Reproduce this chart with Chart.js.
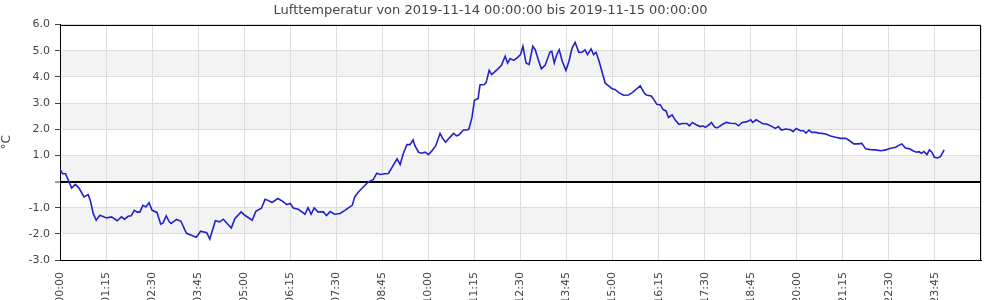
<!DOCTYPE html>
<html>
<head>
<meta charset="utf-8">
<script src="https://cdn.jsdelivr.net/npm/chart.js@4/dist/chart.umd.min.js"></script>
<style>
  html, body { margin: 0; padding: 0; background: #fff; }
  #wrap { width: 1000px; height: 300px; overflow: hidden; }
</style>
</head>
<body>
<div id="wrap"><canvas id="chart" width="1000" height="300"></canvas></div>
<script>
// Messzeitpunkte (Minuten seit 00:00) und Lufttemperatur in °C
const minutes = [
  0, 4, 9, 19, 25, 31, 39, 46, 50, 54, 59, 65, 76, 84, 93, 100, 105, 111, 116, 121,
  126, 130, 135, 140, 145, 150, 158, 164, 168, 173, 178, 181, 190, 197, 201, 206, 214, 222, 229, 239,
  244, 253, 260, 266, 279, 285, 295, 301, 313, 319, 328, 334, 339, 345, 355, 364, 369, 375, 380, 388,
  394, 399, 404, 409, 414, 420, 429, 434, 440, 447, 456, 464, 472, 476, 480, 486, 494, 502, 510, 516,
  521, 529, 535, 541, 549, 554, 559, 565, 570, 575, 578, 584, 589, 595, 600, 606, 612, 619, 623, 628,
  635, 641, 646, 650, 657, 663, 666, 671, 675, 681, 684, 691, 694, 699, 703, 712, 719, 725, 729, 733,
  739, 744, 750, 754, 759, 764, 770, 774, 779, 784, 790, 798, 801, 805, 809, 813, 818, 824, 829, 834,
  839, 845, 851, 855, 859, 865, 869, 873, 878, 884, 888, 894, 899, 904, 910, 918, 926, 932, 937, 945,
  951, 955, 963, 967, 972, 978, 982, 987, 991, 997, 1002, 1008, 1014, 1021, 1025, 1030, 1036, 1043, 1047, 1051,
  1057, 1061, 1066, 1070, 1073, 1078, 1085, 1092, 1100, 1105, 1111, 1119, 1125, 1128, 1134, 1139, 1144, 1152, 1160, 1165,
  1170, 1175, 1182, 1190, 1194, 1199, 1206, 1211, 1215, 1220, 1224, 1231, 1236, 1241, 1247, 1255, 1263, 1271, 1280, 1286,
  1293, 1300, 1306, 1312, 1320, 1328, 1337, 1345, 1353, 1361, 1365, 1371, 1377, 1384, 1389, 1395, 1399, 1403, 1407, 1412,
  1416, 1420, 1424, 1429, 1434, 1440
];
const temps = [
  0.46, 0.30, 0.30, -0.25, -0.11, -0.25, -0.59, -0.50, -0.78, -1.22, -1.48, -1.29, -1.39, -1.35, -1.50, -1.35, -1.44, -1.33, -1.31, -1.10,
  -1.17, -1.17, -0.91, -0.97, -0.81, -1.10, -1.18, -1.63, -1.58, -1.31, -1.54, -1.60, -1.45, -1.52, -1.73, -1.98, -2.05, -2.13, -1.90, -1.96,
  -2.20, -1.50, -1.54, -1.44, -1.78, -1.41, -1.16, -1.29, -1.48, -1.14, -1.02, -0.68, -0.72, -0.80, -0.65, -0.78, -0.88, -0.84, -1.01, -1.06,
  -1.16, -1.25, -1.00, -1.25, -1.01, -1.16, -1.16, -1.30, -1.15, -1.25, -1.22, -1.10, -0.97, -0.91, -0.59, -0.40, -0.21, -0.02, 0.07, 0.32,
  0.27, 0.30, 0.31, 0.55, 0.87, 0.65, 1.06, 1.41, 1.41, 1.59, 1.37, 1.12, 1.08, 1.12, 1.03, 1.18, 1.37, 1.84, 1.66, 1.50,
  1.69, 1.84, 1.75, 1.79, 1.97, 1.97, 2.01, 2.45, 3.11, 3.18, 3.69, 3.71, 3.78, 4.25, 4.09, 4.28, 4.44, 4.79, 4.53, 4.70,
  4.63, 4.72, 4.85, 5.17, 4.53, 4.47, 5.17, 5.04, 4.66, 4.31, 4.44, 4.95, 4.98, 4.53, 4.85, 5.04, 4.60, 4.25, 4.60, 5.10,
  5.32, 4.94, 4.95, 5.04, 4.85, 5.07, 4.85, 4.94, 4.60, 4.09, 3.76, 3.65, 3.55, 3.52, 3.40, 3.30, 3.31, 3.40, 3.50, 3.66,
  3.40, 3.31, 3.27, 3.14, 2.95, 2.93, 2.76, 2.70, 2.45, 2.55, 2.35, 2.19, 2.22, 2.22, 2.13, 2.26, 2.17, 2.10, 2.13, 2.07,
  2.17, 2.26, 2.09, 2.05, 2.09, 2.17, 2.26, 2.23, 2.22, 2.13, 2.26, 2.29, 2.36, 2.26, 2.36, 2.29, 2.22, 2.19, 2.10, 2.03,
  2.10, 1.97, 2.01, 1.98, 1.91, 2.03, 1.94, 1.94, 1.85, 1.97, 1.88, 1.88, 1.85, 1.84, 1.82, 1.74, 1.69, 1.65, 1.65, 1.56,
  1.44, 1.44, 1.46, 1.25, 1.22, 1.21, 1.18, 1.21, 1.27, 1.31, 1.37, 1.44, 1.28, 1.25, 1.18, 1.12, 1.14, 1.08, 1.15, 1.03,
  1.21, 1.12, 0.93, 0.90, 0.95, 1.21
];
// graue Bänder (von, bis)
const bandsLow = [4, 2, 0, -2];
const bandsHigh = [5, 3, 1, -1];

const titleText = 'Lufttemperatur von 2019-11-14 00:00:00 bis 2019-11-15 00:00:00';

Chart.defaults.font.family = '"DejaVu Sans", sans-serif';
Chart.defaults.color = '#444';

function fmtTime(v) {
    const h = Math.floor(v / 60);
    const m = v % 60;
    return String(h).padStart(2, '0') + ':' + String(m).padStart(2, '0');
}

// Hintergrundbänder, oberer und rechter Rahmen
const framePlugin = {
    id: 'frame',
    beforeDraw(chart) {
        const ctx = chart.ctx;
        const a = chart.chartArea;
        const y = chart.scales.y;
        ctx.save();
        ctx.fillStyle = '#f3f3f3';
        for (let i = 0; i < bandsLow.length; i++) {
            const top = y.getPixelForValue(bandsHigh[i]);
            const bot = y.getPixelForValue(bandsLow[i]);
            ctx.fillRect(a.left, top, a.right - a.left, bot - top);
        }
        ctx.restore();
    },
    afterDraw(chart) {
        const ctx = chart.ctx;
        const a = chart.chartArea;
        const top = Math.round(a.top) + 0.5;
        const right = Math.round(a.right) - 0.5;
        ctx.save();
        ctx.strokeStyle = '#000';
        ctx.lineWidth = 1;
        ctx.beginPath();
        ctx.moveTo(a.left, top);
        ctx.lineTo(right, top);
        ctx.lineTo(right, a.bottom);
        ctx.stroke();
        ctx.restore();
    }
};

new Chart(document.getElementById('chart'), {
    type: 'line',
    data: {
        datasets: [{
            label: 'Lufttemperatur',
            data: minutes.map((m, i) => ({ x: m, y: temps[i] })),
            borderColor: '#2222cc',
            borderWidth: 1.6,
            pointRadius: 0,
            tension: 0,
            fill: false
        }]
    },
    options: {
        responsive: false,
        animation: false,
        devicePixelRatio: 1,
        layout: { padding: { left: 0, right: 19, top: 0, bottom: 0 } },
        plugins: {
            legend: { display: false },
            tooltip: { enabled: false },
            title: {
                display: true,
                text: titleText,
                color: '#444',
                font: { size: 13, weight: 'normal' },
                padding: { top: 3, bottom: 6 }
            }
        },
        scales: {
            x: {
                type: 'linear',
                min: 0,
                max: 1500,
                afterFit(scale) {
                    scale.height = 40;
                    scale.paddingRight = 0;
                    scale.paddingLeft = 0;
                },
                ticks: {
                    stepSize: 75,
                    autoSkip: false,
                    maxRotation: 90,
                    minRotation: 90,
                    padding: 12,
                    color: '#444',
                    font: { size: 11 },
                    callback: v => (v >= 1500 ? '' : fmtTime(v))
                },
                grid: { color: '#dddddd', drawTicks: false },
                border: { display: true, color: '#000' }
            },
            y: {
                min: -3,
                max: 6,
                afterFit(scale) { scale.width = 60; },
                title: {
                    display: true,
                    text: '°C',
                    color: '#444',
                    font: { size: 12 },
                    padding: { top: 0, bottom: 0 }
                },
                ticks: {
                    stepSize: 0.5,
                    padding: 5,
                    color: '#444',
                    font: { size: 11 },
                    callback: v => (Number.isInteger(v) && v !== 0 ? v.toFixed(1) : '')
                },
                grid: {
                    color: c => {
                        const v = c.tick ? c.tick.value : null;
                        if (v === 0) return '#000';
                        return Number.isInteger(v) ? '#dddddd' : 'rgba(0,0,0,0)';
                    },
                    lineWidth: c => (c.tick && c.tick.value === 0 ? 2 : 1),
                    tickColor: '#444',
                    tickWidth: 1,
                    tickLength: 5
                },
                border: { display: true, color: '#000' }
            }
        }
    },
    plugins: [framePlugin]
});
</script>
</body>
</html>
